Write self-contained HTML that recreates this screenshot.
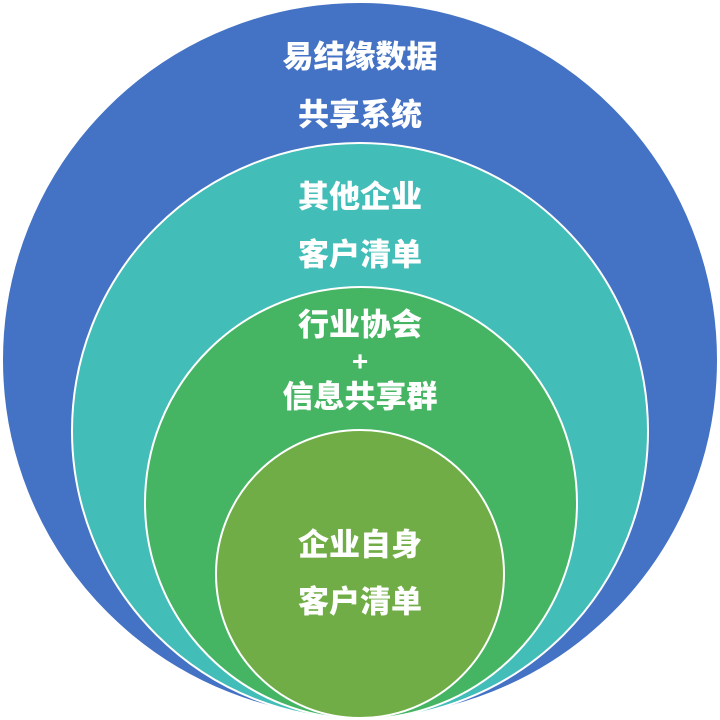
<!DOCTYPE html>
<html><head><meta charset="utf-8"><style>
html,body{margin:0;padding:0;background:#fff;}
svg{display:block;}
text{font-family:"Liberation Sans","Noto Sans CJK SC",sans-serif;font-weight:900;fill:#fff;font-size:31px;text-anchor:middle;dominant-baseline:central;}
</style></head><body>
<svg width="720" height="720" viewBox="0 0 720 720">
<circle cx="360" cy="360" r="358" fill="#4472C4" stroke="#fff" stroke-width="2"/>
<circle cx="360" cy="431" r="288" fill="#42BDB8" stroke="#fff" stroke-width="2"/>
<circle cx="361" cy="503" r="216" fill="#46B563" stroke="#fff" stroke-width="2"/>
<circle cx="360" cy="574" r="144" fill="#70AD47" stroke="#fff" stroke-width="2"/>
<text x="360" y="57">易结缘数据</text>
<text x="360" y="115">共享系统</text>
<text x="360" y="197">其他企业</text>
<text x="360" y="255">客户清单</text>
<text x="360" y="325">行业协会</text>
<text x="360" y="361" style="font-size:28px">+</text>
<text x="360" y="397">信息共享群</text>
<text x="360" y="545">企业自身</text>
<text x="360" y="602">客户清单</text>
</svg>
</body></html>
